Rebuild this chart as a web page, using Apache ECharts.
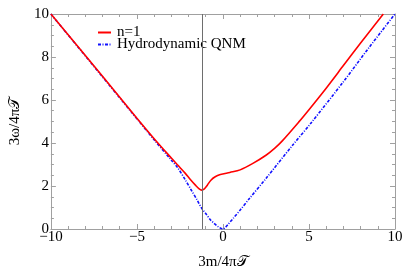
<!DOCTYPE html>
<html><head><meta charset="utf-8">
<script src="https://cdn.jsdelivr.net/npm/echarts@6/dist/echarts.min.js"></script>
<style>html,body{margin:0;padding:0;background:#fff}#c{width:409px;height:275px}</style>
</head><body><div id="c"></div>
<script>
const redX = [-10,-7,-5,-4,-3,-2.6,-2.2,-1.87,-1.6,-1.4,-1.24,-1.08,-0.9,-0.7,-0.45,-0.15,0.4,1.0,1.74,2.5,3.0,3.45,4.4,5,6,7,8,9.32];
const redY = [10,7.1,5.15,4.2,3.3,2.95,2.6,2.28,2.04,1.88,1.81,1.87,2.05,2.27,2.43,2.53,2.63,2.75,3.05,3.43,3.75,4.1,4.97,5.55,6.55,7.6,8.65,10];
const blueX = [-10,-6,-4,-3,-2.63,-2.2,-1.87,-1.5,-1.24,-1.0,-0.73,-0.5,-0.3,-0.1,0,0.3,0.6,1.0,1.5,2.5,4,5.16,7,8.5,10];
const blueY = [10,6.1,4.15,3.2,2.85,2.3,1.85,1.35,0.97,0.72,0.43,0.25,0.12,0.02,0,0.22,0.5,0.88,1.38,2.35,3.85,4.97,6.85,8.45,10];
const markX = -1.21;
const seriesNames = ['n=1','Hydrodynamic QNM'];

const zip = (a,b)=>a.map((v,i)=>[v,b[i]]);
const font = 'Liberation Serif';
const frame = '#a0a0a0';
const minus = v => String(v).replace('-', '\u2212');
function xAx(pos, show){
  return {type:'value', position:pos, min:-10, max:10, interval:5,
    axisLine:{show:true, onZero:false, lineStyle:{color:frame, width:1}},
    axisTick:{show:true, inside:true, length:5, lineStyle:{color:frame}},
    minorTick:{show:true, splitNumber:5, length:3, lineStyle:{color:frame}},
    splitLine:{show:false},
    axisLabel:{show:show, color:'#000', fontFamily:font, fontSize:15, margin:1, formatter:minus},
    name: show ? '3m/4π𝒯' : '', nameLocation:'middle', nameGap:26,
    nameTextStyle:{color:'#000', fontFamily:font, fontSize:15}};
}
function yAx(pos, show){
  return {type:'value', position:pos, min:0, max:10, interval:2,
    axisLine:{show:true, onZero:false, lineStyle:{color:frame, width:1}},
    axisTick:{show:true, inside:true, length:5, lineStyle:{color:frame}},
    minorTick:{show:true, splitNumber:4, length:3, lineStyle:{color:frame}},
    splitLine:{show:false},
    axisLabel:{show:show, color:'#000', fontFamily:font, fontSize:15, margin:2},
    name: show ? '3ω/4π𝒯' : '', nameLocation:'middle', nameGap:27,
    nameTextStyle:{color:'#000', fontFamily:font, fontSize:15}};
}
const chart = echarts.init(document.getElementById('c'), null, {renderer:'canvas'});
chart.setOption({
  animation:false,
  grid:{left:44, right:14, top:14, bottom:44},
  xAxis:[xAx('bottom', true), xAx('top', false)],
  yAxis:[yAx('left', true), yAx('right', false)],
  legend:{left:97, top:25, orient:'vertical', itemWidth:13, itemHeight:8, itemGap:-3, padding:0,
    itemStyle:{color:'transparent', borderWidth:0, opacity:0},
    textStyle:{fontFamily:font, fontSize:15, color:'#000', padding:[0,0,0,1]},
    data:seriesNames},
  series:[
    {name:seriesNames[0], type:'line', data:zip(redX,redY), smooth:0.3, showSymbol:false, symbol:'none',
     lineStyle:{color:'#ff0000', width:1.6}, itemStyle:{color:'#ff0000'}, z:3,
     markLine:{silent:true, symbol:['none','none'], label:{show:false},
       lineStyle:{color:'#6e6e6e', width:1, type:'solid'}, data:[{xAxis:markX}]}},
    {name:seriesNames[1], type:'line', data:zip(blueX,blueY), smooth:0.3, showSymbol:false, symbol:'none',
     lineStyle:{color:'#1010ff', width:1.6, type:[3,1.5,1,1.5]}, itemStyle:{color:'#1010ff'}, z:2}
  ]
});
</script></body></html>
